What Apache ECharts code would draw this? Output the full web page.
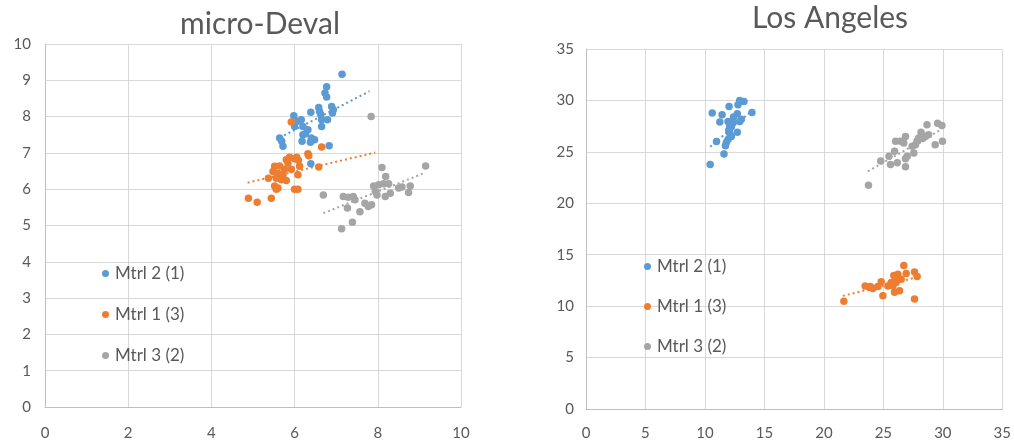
<!DOCTYPE html>
<html><head><meta charset="utf-8">
<script src="https://cdn.jsdelivr.net/npm/echarts@6/dist/echarts.min.js"></script>
<style>html,body{margin:0;padding:0;background:#fff}#c{width:1014px;height:441px}</style>
</head><body><div id="c"></div>
<script>
const seriesNames = ['Mtrl 2 (1)', 'Mtrl 1 (3)', 'Mtrl 3 (2)'];
const titles = ['micro-Deval', 'Los Angeles'];
const leftTicks = {min: 0, max: 10, interval: 2, ymin: 0, ymax: 10, yinterval: 1};
const rightTicks = {min: 0, max: 35, interval: 5, ymin: 0, ymax: 35, yinterval: 5};

const mdBlue = [[7.14,9.17],[6.77,8.82],[6.73,8.65],[6.77,8.54],[6.89,8.28],[6.93,8.19],[6.91,8.10],[6.58,8.25],[6.60,8.14],[6.63,8.05],[6.65,7.91],[6.39,8.12],[6.79,7.91],[6.65,7.73],[5.98,8.02],[6.08,7.87],[6.16,7.91],[6.20,7.73],[6.32,7.64],[6.26,7.53],[6.20,7.50],[6.40,7.41],[6.48,7.36],[6.38,7.29],[6.18,7.32],[5.64,7.41],[5.69,7.32],[5.72,7.18],[6.00,7.73],[6.83,7.20],[6.39,6.70]];
const mdOrange = [[5.92,7.85],[6.65,7.16],[6.32,6.98],[6.34,6.92],[6.05,6.88],[6.09,6.80],[6.00,6.84],[5.88,6.88],[5.80,6.81],[5.84,6.72],[6.12,6.63],[6.58,6.61],[5.52,6.63],[5.64,6.64],[5.48,6.49],[5.60,6.44],[5.72,6.40],[5.56,6.30],[5.68,6.26],[5.80,6.24],[5.37,6.30],[6.08,6.40],[5.52,6.09],[5.60,6.03],[5.56,6.00],[6.00,6.00],[6.08,6.00],[4.89,5.75],[5.10,5.64],[5.44,5.75],[5.92,6.55],[5.76,6.55]];
const mdGray = [[7.84,8.00],[9.15,6.64],[8.10,6.60],[8.19,6.35],[6.69,5.84],[7.90,6.09],[8.02,6.12],[8.14,6.15],[8.26,6.15],[7.94,5.94],[7.98,5.84],[8.18,5.80],[8.30,5.89],[8.50,6.03],[8.58,6.06],[8.78,6.09],[8.74,5.91],[7.17,5.80],[7.29,5.78],[7.41,5.80],[7.45,5.71],[7.27,5.48],[7.57,5.38],[7.69,5.61],[7.77,5.52],[7.85,5.57],[7.39,5.09],[7.13,4.91]];
const laBlue = [[12.92,30.0],[13.28,29.9],[12.78,29.58],[12.03,29.4],[13.95,28.83],[10.61,28.77],[11.44,28.6],[12.72,28.7],[13.06,28.18],[12.92,27.95],[11.25,27.9],[11.94,27.95],[12.08,27.6],[12.22,27.45],[12.36,27.8],[12.0,27.1],[12.08,26.8],[12.22,26.5],[12.72,26.9],[11.94,26.2],[11.8,25.9],[11.72,25.6],[10.97,26.0],[11.6,24.8],[10.44,23.77],[12.1,27.3],[12.4,28.4]];
const laOrange = [[21.68,10.48],[23.47,11.97],[23.84,11.82],[24.12,11.72],[24.54,11.91],[24.82,12.36],[24.96,11.02],[25.38,11.97],[25.66,12.29],[25.88,12.99],[26.22,13.09],[26.5,12.61],[26.72,13.95],[26.92,13.18],[25.94,11.34],[26.36,11.5],[27.62,13.31],[27.84,12.87],[27.62,10.7],[26.08,12.29],[25.8,11.97],[23.9,11.9],[26.1,12.8]];
const laGray = [[28.67,27.63],[29.56,27.79],[29.92,27.56],[29.97,26.03],[29.36,25.7],[28.8,26.67],[28.53,26.5],[28.17,26.9],[27.97,26.35],[27.83,26.03],[27.7,25.7],[27.42,25.54],[26.86,26.5],[26.44,26.03],[26.03,26.03],[26.72,25.87],[27.56,24.9],[27.0,24.58],[26.86,24.33],[26.86,23.56],[25.94,25.06],[25.47,24.58],[25.6,23.78],[26.17,23.94],[24.78,24.1],[23.75,21.76],[27.9,26.1],[28.3,26.3]];
const mdTrendBlue = [[5.64,7.42],[7.8,8.7]];
const mdTrendOrange = [[4.87,6.18],[7.94,7.01]];
const mdTrendGray = [[6.69,5.34],[9.15,6.46]];
const laTrendBlue = [[10.44,25.5],[13.95,29.0]];
const laTrendOrange = [[21.6,11.0],[27.8,12.8]];
const laTrendGray = [[23.7,23.1],[29.9,27.2]];

const colors = ['#5B9BD5', '#ED7D31', '#A5A5A5'];
const FONT = 'Lato';
const grid = [
  {left: 45, right: 553, top: 44, bottom: 34},
  {left: 586, right: 11, top: 49, bottom: 30}
];
function xAxis(i, t, margin) {
  return {type: 'value', gridIndex: i, min: t.min, max: t.max, interval: t.interval,
    axisLine: {show: true, lineStyle: {color: '#BFBFBF', width: 1}}, axisTick: {show: false},
    axisLabel: {color: '#595959', fontSize: 15, fontFamily: FONT, margin: margin},
    splitLine: {lineStyle: {color: '#D9D9D9', width: 1}}};
}
function yAxis(i, t, margin) {
  return {type: 'value', gridIndex: i, min: t.ymin, max: t.ymax, interval: t.yinterval,
    axisLine: {show: true, lineStyle: {color: '#BFBFBF', width: 1}}, axisTick: {show: false},
    axisLabel: {color: '#595959', fontSize: 15, fontFamily: FONT, margin: margin},
    splitLine: {lineStyle: {color: '#D9D9D9', width: 1}}};
}
function scatter(name, data, idx, c) {
  return {type: 'scatter', name: name, xAxisIndex: idx, yAxisIndex: idx, data: data,
    symbolSize: 7.5, itemStyle: {color: c, opacity: 1}, z: 3};
}
function trend(data, idx, c) {
  return {type: 'line', xAxisIndex: idx, yAxisIndex: idx, data: data, symbol: 'none',
    lineStyle: {color: c, width: 2, type: [2, 3]}, z: 2, silent: true};
}
const groups = [[mdBlue, mdOrange, mdGray], [laBlue, laOrange, laGray]];
const trends = [[mdTrendBlue, mdTrendOrange, mdTrendGray], [laTrendBlue, laTrendOrange, laTrendGray]];
const series = [];
for (let g = 0; g < 2; g++) {
  for (let k = 0; k < 3; k++) {
    series.push(trend(trends[g][k], g, colors[k]));
    series.push(scatter(seriesNames[k], groups[g][k], g, colors[k]));
  }
}
function legend(left, top, gap) {
  return {left: left, top: top, orient: 'vertical', icon: 'circle', itemWidth: 7, itemHeight: 7,
    itemGap: gap, data: seriesNames, selectedMode: false,
    textStyle: {color: '#595959', fontSize: 17, fontFamily: FONT, lineHeight: 17, padding: [0, 0, 0, 1]}};
}
const option = {
  animation: false,
  color: colors,
  title: [
    {text: titles[0], left: 255, top: 4, textAlign: 'center',
     textStyle: {color: '#595959', fontSize: 30, fontWeight: 'normal', fontFamily: FONT}},
    {text: titles[1], left: 825, top: -2, textAlign: 'center',
     textStyle: {color: '#595959', fontSize: 30, fontWeight: 'normal', fontFamily: FONT}}
  ],
  legend: [legend(97, 260, 24), legend(639, 253, 23)],
  grid: grid,
  xAxis: [xAxis(0, leftTicks, 19), xAxis(1, rightTicks, 17)],
  yAxis: [yAxis(0, leftTicks, 14), yAxis(1, rightTicks, 12)],
  series: series
};
const chart = echarts.init(document.getElementById('c'));
chart.setOption(option);
</script></body></html>
